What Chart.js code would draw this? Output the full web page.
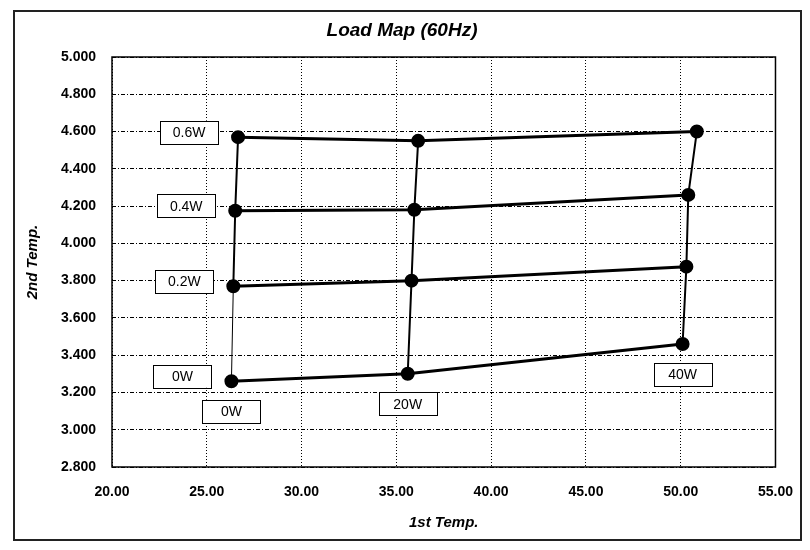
<!DOCTYPE html>
<html>
<head>
<meta charset="utf-8">
<title>Load Map (60Hz)</title>
<script src="https://cdn.jsdelivr.net/npm/chart.js@4"></script>
<style>
  html, body { margin: 0; padding: 0; background: #fff; }
  #wrap { width: 810px; height: 550px; }
</style>
</head>
<body>
<div id="wrap"><canvas id="chart" width="810" height="550"></canvas></div>
<script>
// load labels
const rowLabels = ['0W', '0.2W', '0.4W', '0.6W'];   // lines running left to right
const colLabels = ['0W', '20W', '40W'];             // lines running bottom to top

// 1st temp (x) for each row, one value per column
const x0W  = [26.3, 35.6, 50.1];
const x02W = [26.4, 35.8, 50.3];
const x04W = [26.5, 35.95, 50.4];
const x06W = [26.65, 36.15, 50.85];

// 2nd temp (y) for each row
const y0W  = [3.26, 3.30, 3.46];
const y02W = [3.77, 3.80, 3.875];
const y04W = [4.175, 4.18, 4.26];
const y06W = [4.57, 4.55, 4.60];

const xTicks = [20, 25, 30, 35, 40, 45, 50, 55];
const yTicks = [2.8, 3.0, 3.2, 3.4, 3.6, 3.8, 4.0, 4.2, 4.4, 4.6, 4.8, 5.0];

const rowsX = [x0W, x02W, x04W, x06W];
const rowsY = [y0W, y02W, y04W, y06W];

const font = '"Liberation Sans", Arial, sans-serif';

const datasets = [];
rowsX.forEach((xs, r) => {
  datasets.push({
    label: rowLabels[r],
    data: xs.map((x, c) => ({ x: x, y: rowsY[r][c] })),
    showLine: true,
    borderColor: '#000',
    backgroundColor: '#000',
    borderWidth: 3,
    pointRadius: 5.5,
    pointHoverRadius: 5.5
  });
});
colLabels.forEach((lab, c) => {
  datasets.push({
    label: lab,
    data: rowsX.map((xs, r) => ({ x: xs[c], y: rowsY[r][c] })),
    showLine: true,
    borderColor: '#000',
    backgroundColor: '#000',
    borderWidth: 2,
    pointRadius: 0,
    segment: {
      borderWidth: ctx => (c === 0 && ctx.p0DataIndex === 0 ? 1 : 2)
    }
  });
});

// boxes with the load names, placed next to the points
const loadBoxes = {
  id: 'loadBoxes',
  afterDatasetsDraw(chart) {
    const ctx = chart.ctx;
    const xs = chart.scales.x, ys = chart.scales.y;
    const w = 58, h = 23;
    function box(cx, cy, text) {
      ctx.fillStyle = '#fff';
      ctx.fillRect(cx - w / 2, cy - h / 2, w, h);
      ctx.strokeStyle = '#000';
      ctx.lineWidth = 1;
      ctx.strokeRect(Math.round(cx - w / 2) + 0.5, Math.round(cy - h / 2) + 0.5, w, h);
      ctx.fillStyle = '#000';
      ctx.font = '14px ' + font;
      ctx.textAlign = 'center';
      ctx.textBaseline = 'middle';
      ctx.fillText(text, cx, cy + 1);
    }
    ctx.save();
    rowLabels.forEach((t, r) => {
      const px = xs.getPixelForValue(rowsX[r][0]);
      const py = ys.getPixelForValue(rowsY[r][0]);
      box(px - 20 - w / 2, py - 5, t);
    });
    colLabels.forEach((t, c) => {
      const px = xs.getPixelForValue(x0W[c]);
      const py = ys.getPixelForValue(y0W[c]);
      box(px, py + 30, t);
    });
    ctx.restore();
  }
};

// plot frame, outer frame and title
const frame = {
  id: 'frame',
  afterDraw(chart) {
    const ctx = chart.ctx;
    const a = chart.chartArea;
    ctx.save();
    ctx.strokeStyle = '#000';
    ctx.lineWidth = 1.5;
    ctx.strokeRect(a.left, a.top, a.right - a.left, a.bottom - a.top);
    ctx.strokeStyle = '#222';
    ctx.lineWidth = 2;
    ctx.strokeRect(14, 11, 787, 529);
    ctx.fillStyle = '#000';
    ctx.font = 'italic bold 19px ' + font;
    ctx.textAlign = 'center';
    ctx.textBaseline = 'middle';
    ctx.fillText('Load Map (60Hz)', 402, 31);
    ctx.restore();
  }
};

new Chart(document.getElementById('chart'), {
  type: 'scatter',
  data: { datasets: datasets },
  options: {
    responsive: false,
    animation: false,
    layout: { padding: { left: 20, right: 34, top: 57, bottom: 10 } },
    plugins: {
      legend: { display: false },
      tooltip: { enabled: false }
    },
    scales: {
      x: {
        type: 'linear',
        min: 20,
        max: 55,
        afterFit: s => { s.height = 73; },
        afterBuildTicks: s => { s.ticks = xTicks.map(v => ({ value: v })); },
        ticks: {
          color: '#000',
          padding: 17,
          font: { family: font, size: 14, weight: 'bold' },
          callback: v => Number(v).toFixed(2)
        },
        grid: { color: '#000', lineWidth: 1, drawTicks: false },
        border: { display: false, dash: [1, 2] },
        title: {
          display: true,
          text: '1st Temp.',
          color: '#000',
          padding: { top: 0, bottom: 8 },
          font: { family: font, size: 15, weight: 'bold', style: 'italic' }
        }
      },
      y: {
        type: 'linear',
        min: 2.8,
        max: 5.0,
        afterFit: s => { s.width = 92; },
        afterBuildTicks: s => { s.ticks = yTicks.map(v => ({ value: v })); },
        ticks: {
          color: '#000',
          padding: 16,
          font: { family: font, size: 14, weight: 'bold' },
          callback: v => Number(v).toFixed(3)
        },
        grid: { color: '#000', lineWidth: 1, drawTicks: false },
        border: { display: false, dash: [4, 2, 1, 2] },
        title: {
          display: true,
          text: '2nd Temp.',
          color: '#000',
          padding: { top: 4, bottom: 0 },
          font: { family: font, size: 15, weight: 'bold', style: 'italic' }
        }
      }
    }
  },
  plugins: [loadBoxes, frame]
});
</script>
</body>
</html>
